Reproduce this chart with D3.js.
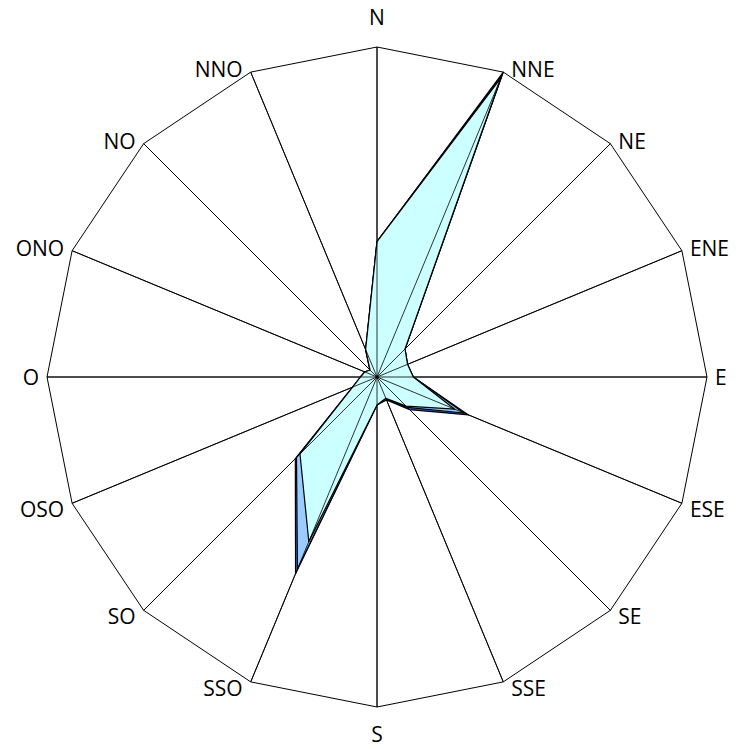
<!DOCTYPE html><html><head><meta charset="utf-8"><script src="https://cdn.jsdelivr.net/npm/d3@7"></script>
<style>body{margin:0;background:#fff}</style></head><body><svg id="c" width="741" height="749"></svg><script>
const directions=["N","NNE","NE","ENE","E","ESE","SE","SSE","S","SSO","SO","OSO","O","ONO","NO","NNO"];
const seriesBlue=[0.41,1.0,0.12,0.10,0.11,0.30,0.14,0.075,0.085,0.645,0.35,0.08,0.05,0.04,0.03,0.09];
const seriesLight=[0.41,0.99,0.12,0.10,0.11,0.285,0.13,0.07,0.085,0.63,0.345,0.08,0.05,0.04,0.03,0.09];
const seriesCyan=[0.41,0.98,0.12,0.10,0.11,0.255,0.125,0.07,0.085,0.54,0.33,0.08,0.05,0.04,0.03,0.09];
const svg=d3.select("#c"),cx=377,cy=377,R=330;
const r=d3.scaleLinear().domain([0,1]).range([0,R]);
const ang=d3.scaleLinear().domain([0,directions.length]).range([0,2*Math.PI]);
const pt=(i,v)=>[cx+r(v)*Math.sin(ang(i)),cy-r(v)*Math.cos(ang(i))];
const g=svg.append("g");
const line=d3.line().curve(d3.curveLinearClosed);
g.append("path").attr("d",line(directions.map((d,i)=>pt(i,1)))).attr("fill","none").attr("stroke","#000").attr("stroke-width",1);
directions.forEach((d,i)=>{const p=pt(i,1);g.append("line").attr("x1",cx).attr("y1",cy).attr("x2",p[0]).attr("y2",p[1]).attr("stroke","#000").attr("stroke-width",1);});
[[seriesBlue,"#3366ff"],[seriesLight,"#99ccff"],[seriesCyan,"#ccffff"]].forEach(([s,c])=>{
 g.append("path").attr("d",line(s.map((v,i)=>pt(i,v)))).attr("fill",c).attr("stroke","#000").attr("stroke-width",1.2).attr("stroke-linejoin","round");
});
directions.forEach((d,i)=>{const p=pt(i,1);g.append("line").attr("x1",cx).attr("y1",cy).attr("x2",p[0]).attr("y2",p[1]).attr("stroke","#000").attr("stroke-width",0.8);});
directions.forEach((d,i)=>{const p=pt(i,1);let x=p[0],y=p[1],a="middle";
 const dy=(i>4&&i<12)?6:(i==4||i==12?0:-3);
 if(i==0)y-=30;else if(i==8)y+=27;else if(i<8){a="start";x+=8;y+=dy;}else{a="end";x-=8;y+=dy;}
 svg.append("text").attr("x",x).attr("y",y).attr("text-anchor",a).attr("dominant-baseline","central")
 .attr("font-family","Open Sans").attr("font-size",21).text(d);});
</script></body></html>
